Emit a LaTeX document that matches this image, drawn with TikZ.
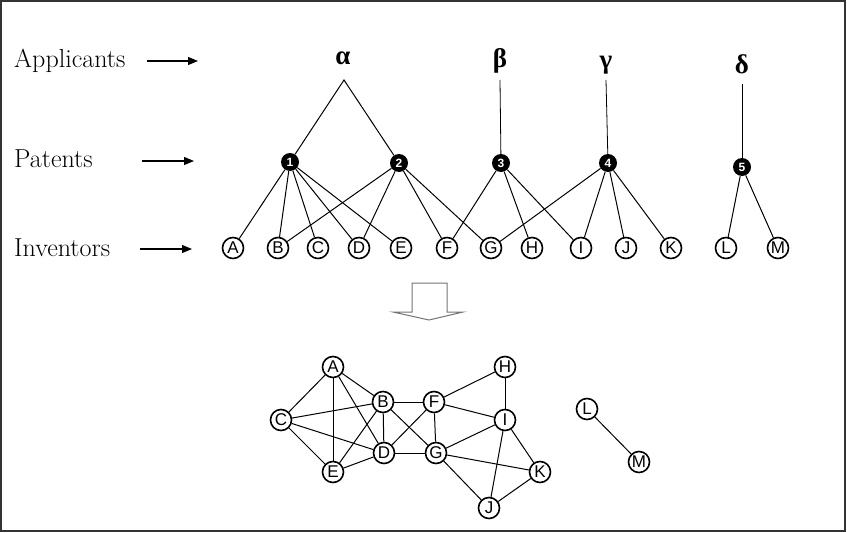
\documentclass[tikz,border=0pt]{standalone}
\usepackage{fontspec}
\newfontfamily\lsans{Liberation Sans}
\newfontfamily\lserif{Liberation Serif}
\usetikzlibrary{arrows.meta}
\tikzset{
  inv/.style={circle, draw, line width=1.6pt, fill=white, minimum size=21pt, inner sep=0pt, font=\lsans\fontsize{17}{17}\selectfont},
  pat/.style={circle, fill=black, minimum size=18pt, inner sep=0pt, text=white, font=\lsans\bfseries\fontsize{12}{12}\selectfont},
  edg/.style={line width=1pt},
  vline/.style={line width=0.8pt},
  lab/.style={anchor=base west, inner sep=0pt, font=\fontsize{26}{28}\selectfont},
  grk/.style={inner sep=0pt, font=\lserif\bfseries\fontsize{27}{27}\selectfont},
  larr/.style={line width=1.1pt, -{Triangle[length=10pt,width=8pt]}},
}
\begin{document}
\begin{tikzpicture}[x=1pt,y=-1pt]
\useasboundingbox (0,0) rectangle (847,533);
\draw[line width=1.2pt, black!80] (1,1) rectangle (845,531);

% row labels
\node[lab] (lApp) at (14,67) {Applicants};
\node[lab] (lPat) at (14,167) {Patents};
\node[lab] (lInv) at (14,256) {Inventors};
\coordinate (aA1) at (147,61); \coordinate (aA2) at (198,61);
\coordinate (aP1) at (142,161); \coordinate (aP2) at (194,161);
\coordinate (aI1) at (140,249); \coordinate (aI2) at (192,249);
\draw[larr] (aA1) -- (aA2);
\draw[larr] (aP1) -- (aP2);
\draw[larr] (aI1) -- (aI2);

% applicants
\node[grk] (ga) at (343,58) {α};
\node[grk] (gb) at (500,61) {β};
\node[grk] (gg) at (606,65) {γ};
\node[grk] (gd) at (742,64) {δ};
\coordinate (ta) at (344,80);
\coordinate (tb) at (500,80);
\coordinate (tg) at (606,80);
\coordinate (td) at (742,84);

% patents
\node[pat] (p1) at (290,162) {1};
\node[pat] (p2) at (399,163) {2};
\node[pat] (p3) at (501,163) {3};
\node[pat] (p4) at (608,163) {4};
\node[pat] (p5) at (742,167) {5};

% inventors
\foreach \n/\x in {A/233,B/278,C/318,D/359,E/401,F/447,G/491,H/532,I/581,J/626,K/671,L/726,M/778}
  \node[inv] (i\n) at (\x,248) {\n};

% applicant-patent links
\draw[edg] (p1) -- (ta) -- (p2);
\draw[vline] (tb) -- (p3);
\draw[vline] (tg) -- (p4);
\draw[vline] (td) -- (p5);

% patent-inventor links
\foreach \t in {A,B,C,D,E} \draw[edg] (p1) -- (i\t);
\foreach \t in {B,D,F,G} \draw[edg] (p2) -- (i\t);
\foreach \t in {F,H,I} \draw[edg] (p3) -- (i\t);
\foreach \t in {G,I,J,K} \draw[edg] (p4) -- (i\t);
\foreach \t in {L,M} \draw[edg] (p5) -- (i\t);

% block arrow
\draw[line width=1pt, black!55] (412,283) -- (447,283) -- (447,312) -- (463,312) -- (429,320) -- (393,312) -- (412,312) -- cycle;

% co-inventor network
\node[inv] (nA) at (333,367) {A};
\node[inv] (nB) at (383,402) {B};
\node[inv] (nC) at (281,420) {C};
\node[inv] (nD) at (384,453) {D};
\node[inv] (nE) at (333,472) {E};
\node[inv] (nF) at (434,402) {F};
\node[inv] (nG) at (436,453) {G};
\node[inv] (nH) at (505,367) {H};
\node[inv] (nI) at (505,420) {I};
\node[inv] (nJ) at (489,508) {J};
\node[inv] (nK) at (540,472) {K};
\node[inv] (nL) at (587,409) {L};
\node[inv] (nM) at (639,462) {M};

\foreach \u/\v in {A/B,A/C,A/D,A/E,B/C,B/D,B/E,C/D,C/E,D/E,B/F,B/G,D/F,D/G,F/G,F/H,F/I,H/I,G/I,G/J,G/K,I/J,I/K,J/K,L/M}
  \draw[edg] (n\u) -- (n\v);
\end{tikzpicture}
\end{document}
